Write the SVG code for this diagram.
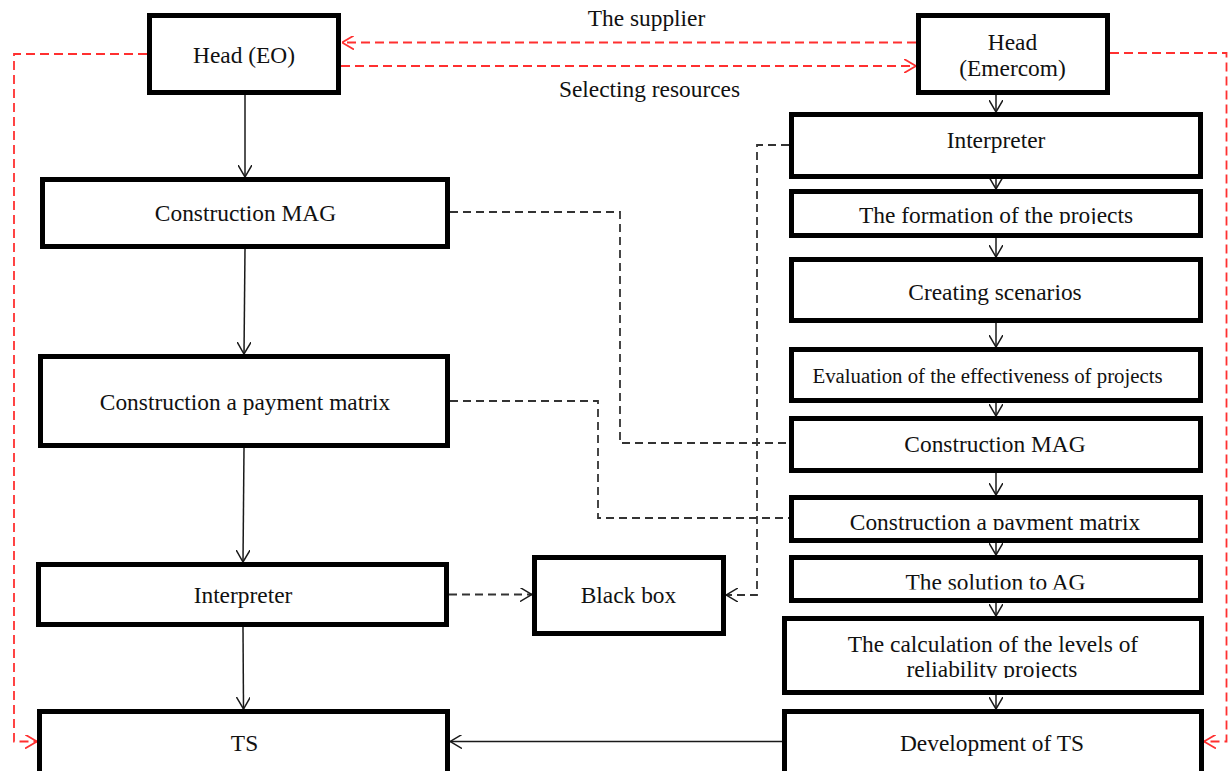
<svg xmlns="http://www.w3.org/2000/svg" width="1228" height="771" viewBox="0 0 1228 771">
  <style>
    .box { fill: #ffffff; stroke: #000000; stroke-width: 5; }
    .lbl { font-family: "Liberation Serif", "Times New Roman", serif; font-size: 23.4px; fill: #111111; text-anchor: middle; }
    .small { font-size: 20.8px; }
    .solid { fill: none; stroke: #1a1a1a; stroke-width: 1.5; }
    .dash { fill: none; stroke: #333333; stroke-width: 1.8; stroke-dasharray: 8 5; }
    .red { fill: none; stroke: #ff3030; stroke-width: 1.8; stroke-dasharray: 9 5; }
  </style>
  <defs>
    <marker id="ab" viewBox="0 0 12 14" refX="12" refY="7" markerWidth="12" markerHeight="14" markerUnits="userSpaceOnUse" orient="auto">
      <path d="M0,0 L12,7 L0,14" fill="none" stroke="#1a1a1a" stroke-width="1.5"/>
    </marker>
    <marker id="ar" viewBox="0 0 12 14" refX="12" refY="7" markerWidth="12" markerHeight="14" markerUnits="userSpaceOnUse" orient="auto">
      <path d="M0,0 L12,7 L0,14" fill="none" stroke="#ff3030" stroke-width="1.8"/>
    </marker>
    <clipPath id="cFormation"><rect x="790" y="180" width="420" height="44"/></clipPath>
    <clipPath id="cPayR"><rect x="790" y="490" width="420" height="40"/></clipPath>
    <clipPath id="cSol"><rect x="790" y="550" width="420" height="39.5"/></clipPath>
    <clipPath id="cCalc"><rect x="780" y="610" width="430" height="68"/></clipPath>
  </defs>

  <g id="connectors">
    <!-- left column solid arrows -->
    <path class="solid" d="M245,95 L245,177" marker-end="url(#ab)"/>
    <path class="solid" d="M245,249 L244,354" marker-end="url(#ab)"/>
    <path class="solid" d="M244,448 L243,562" marker-end="url(#ab)"/>
    <path class="solid" d="M243,627 L243.5,709" marker-end="url(#ab)"/>
    <path class="solid" d="M782,741.5 L450,741.5" marker-end="url(#ab)"/>
    <!-- right column solid arrows -->
    <path class="solid" d="M996,94 L996,112" marker-end="url(#ab)"/>
    <path class="solid" d="M996,178 L996,189" marker-end="url(#ab)"/>
    <path class="solid" d="M996,238 L996,257" marker-end="url(#ab)"/>
    <path class="solid" d="M996,323 L996,347" marker-end="url(#ab)"/>
    <path class="solid" d="M996,403 L996,416" marker-end="url(#ab)"/>
    <path class="solid" d="M996,473 L996,495" marker-end="url(#ab)"/>
    <path class="solid" d="M996,543 L996,555" marker-end="url(#ab)"/>
    <path class="solid" d="M996,603 L996,616" marker-end="url(#ab)"/>
    <path class="solid" d="M996,694 L996,709" marker-end="url(#ab)"/>
    <!-- black dashed -->
    <path class="dash" d="M789,145 L757,145 L757,595 L726,595" marker-end="url(#ab)"/>
    <path class="dash" d="M450,212 L620,212 L620,443 L789,443"/>
    <path class="dash" d="M450,401 L598,401 L598,518 L789,518"/>
    <path class="dash" d="M449,594.5 L532,594.5" marker-end="url(#ab)"/>
    <!-- red dashed -->
    <path class="red" d="M916,42.5 L342,42.5" marker-end="url(#ar)"/>
    <path class="red" d="M341,66 L916,66" marker-end="url(#ar)"/>
    <path class="red" d="M147,54 L14,54 L14,741.5 L37,741.5" marker-end="url(#ar)"/>
    <path class="red" d="M1110,53 L1226.5,53 L1226.5,741.5 L1204,741.5" marker-end="url(#ar)"/>
  </g>

  <g id="label-supplier"><text class="lbl" x="646.5" y="26">The supplier</text></g>
  <g id="label-selecting"><text class="lbl" x="649.5" y="97">Selecting resources</text></g>

  <g id="head-eo">
    <rect class="box" x="149.5" y="15.5" width="189" height="77"/>
    <text class="lbl" x="244" y="63">Head (EO)</text>
  </g>
  <g id="construction-mag-left">
    <rect class="box" x="42.5" y="179.5" width="405" height="67"/>
    <text class="lbl" x="245.5" y="221">Construction MAG</text>
  </g>
  <g id="payment-matrix-left">
    <rect class="box" x="40.5" y="356.5" width="407" height="89"/>
    <text class="lbl" x="245" y="410">Construction a payment matrix</text>
  </g>
  <g id="interpreter-left">
    <rect class="box" x="38.5" y="564.5" width="408" height="60"/>
    <text class="lbl" x="243" y="603">Interpreter</text>
  </g>
  <g id="ts">
    <rect class="box" x="39.5" y="711.5" width="408" height="75"/>
    <text class="lbl" x="244.5" y="751">TS</text>
  </g>
  <g id="black-box">
    <rect class="box" x="534.5" y="557.5" width="189" height="76"/>
    <text class="lbl" x="628.5" y="603">Black box</text>
  </g>

  <g id="head-emercom">
    <rect class="box" x="918.5" y="15.5" width="189" height="77"/>
    <text class="lbl" x="1012.5" y="50">Head</text>
    <text class="lbl" x="1012.5" y="76">(Emercom)</text>
  </g>
  <g id="interpreter-right">
    <rect class="box" x="791.5" y="114.5" width="409" height="62"/>
    <text class="lbl" x="996" y="148">Interpreter</text>
  </g>
  <g id="formation">
    <rect class="box" x="791.5" y="191.5" width="409" height="44"/>
    <text class="lbl" x="996" y="223" clip-path="url(#cFormation)">The formation of the projects</text>
  </g>
  <g id="creating-scenarios">
    <rect class="box" x="791.5" y="259.5" width="409" height="61"/>
    <text class="lbl" x="995" y="300">Creating scenarios</text>
  </g>
  <g id="evaluation">
    <rect class="box" x="791.5" y="349.5" width="409" height="51"/>
    <text class="lbl small" x="987.5" y="383">Evaluation of the effectiveness of projects</text>
  </g>
  <g id="construction-mag-right">
    <rect class="box" x="791.5" y="418.5" width="409" height="52"/>
    <text class="lbl" x="995" y="451.5">Construction MAG</text>
  </g>
  <g id="payment-matrix-right">
    <rect class="box" x="791.5" y="497.5" width="409" height="43"/>
    <text class="lbl" x="995" y="529.5" clip-path="url(#cPayR)">Construction a payment matrix</text>
  </g>
  <g id="solution-ag">
    <rect class="box" x="791.5" y="557.5" width="409" height="43"/>
    <text class="lbl" x="995.5" y="589.5" clip-path="url(#cSol)">The solution to AG</text>
  </g>
  <g id="calculation">
    <rect class="box" x="784.5" y="618.5" width="417" height="74"/>
    <g clip-path="url(#cCalc)">
      <text class="lbl" x="993" y="651.5">The calculation of the levels of</text>
      <text class="lbl" x="992" y="677">reliability projects</text>
    </g>
  </g>
  <g id="development-ts">
    <rect class="box" x="784.5" y="711.5" width="417" height="75"/>
    <text class="lbl" x="992" y="751">Development of TS</text>
  </g>
</svg>
